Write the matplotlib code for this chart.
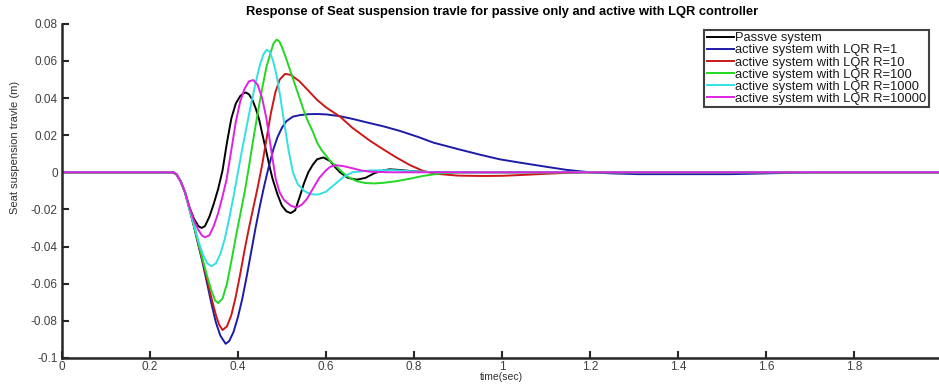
import matplotlib
matplotlib.use("Agg")
import matplotlib.pyplot as plt
import numpy as np

plt.rcParams['font.family'] = ['Liberation Sans', 'DejaVu Sans']

# seat suspension travel (m) sampled against time (s)
t_passive = [0, 0.25, 0.26, 0.27, 0.28, 0.29, 0.30, 0.31, 0.3175, 0.325, 0.335, 0.345, 0.355,
             0.365, 0.375, 0.385, 0.395, 0.405, 0.412, 0.418, 0.425, 0.433, 0.441, 0.448,
             0.456, 0.465, 0.472, 0.479, 0.49, 0.50, 0.51, 0.52, 0.53, 0.541, 0.55, 0.56,
             0.57, 0.58, 0.594, 0.61, 0.62, 0.632, 0.65, 0.67, 0.69, 0.71, 0.73, 0.745,
             0.77, 0.80, 0.85, 2.0]
y_passive = [0, 0, -0.001, -0.005, -0.011, -0.019, -0.025, -0.029, -0.030, -0.029, -0.024,
             -0.017, -0.009, 0.001, 0.016, 0.029, 0.037, 0.041, 0.0425, 0.043, 0.042, 0.039,
             0.034, 0.0286, 0.020, 0.0106, 0.003, -0.0038, -0.012, -0.018, -0.021, -0.022,
             -0.0205, -0.0128, -0.006, 0.0, 0.004, 0.007, 0.008, 0.006, 0.003, 0.0, -0.003,
             -0.004, -0.003, -0.0005, 0.001, 0.0016, 0.0012, 0.0005, 0.0, 0.0]

t_r1 = [0, 0.253, 0.26, 0.27, 0.28, 0.29, 0.30, 0.31, 0.32, 0.33, 0.34, 0.35, 0.36, 0.372,
        0.38, 0.39, 0.40, 0.41, 0.42, 0.43, 0.44, 0.45, 0.46, 0.468, 0.48, 0.49, 0.50, 0.51,
        0.525, 0.541, 0.56, 0.58, 0.60, 0.63, 0.66, 0.6925, 0.73, 0.768, 0.81, 0.844, 0.90,
        0.95, 0.995, 1.041, 1.10, 1.147, 1.20, 1.25, 1.31, 1.40, 1.52, 1.60, 1.70, 2.0]
y_r1 = [0, 0, -0.001, -0.005, -0.011, -0.020, -0.029, -0.039, -0.049, -0.060, -0.071,
        -0.081, -0.088, -0.0924, -0.091, -0.086, -0.078, -0.068, -0.056, -0.043, -0.030,
        -0.018, -0.007, 0.001, 0.012, 0.019, 0.024, 0.0275, 0.030, 0.0308, 0.0313, 0.0314,
        0.0312, 0.0303, 0.0288, 0.0269, 0.0248, 0.0223, 0.019, 0.016, 0.0125, 0.0095,
        0.007, 0.0052, 0.003, 0.0013, 0.0, -0.0006, -0.001, -0.001, -0.001, -0.0006, 0.0, 0.0]

t_r10 = [0, 0.253, 0.26, 0.27, 0.28, 0.29, 0.30, 0.31, 0.32, 0.33, 0.34, 0.35, 0.357,
         0.365, 0.375, 0.385, 0.395, 0.405, 0.415, 0.425, 0.435, 0.445, 0.455, 0.465,
         0.475, 0.485, 0.495, 0.507, 0.52, 0.54, 0.56, 0.58, 0.60, 0.632, 0.66, 0.70,
         0.73, 0.76, 0.79, 0.821, 0.85, 0.90, 0.957, 1.0, 1.05, 1.10, 1.18, 2.0]
y_r10 = [0, 0, -0.001, -0.005, -0.011, -0.020, -0.029, -0.039, -0.048, -0.058, -0.068,
         -0.077, -0.082, -0.085, -0.083, -0.077, -0.067, -0.055, -0.042, -0.030, -0.019,
         -0.008, 0.004, 0.018, 0.032, 0.043, 0.050, 0.053, 0.0525, 0.049, 0.044, 0.039,
         0.035, 0.030, 0.024, 0.017, 0.0124, 0.008, 0.004, 0.0007, -0.0008, -0.0018,
         -0.002, -0.0019, -0.0014, -0.0008, 0.0, 0.0]

t_r100 = [0, 0.253, 0.26, 0.27, 0.28, 0.29, 0.30, 0.31, 0.32, 0.33, 0.34, 0.348, 0.355,
          0.365, 0.375, 0.385, 0.395, 0.405, 0.415, 0.425, 0.435, 0.445, 0.455, 0.465,
          0.475, 0.481, 0.488, 0.494, 0.50, 0.51, 0.52, 0.53, 0.54, 0.55, 0.56, 0.57, 0.58,
          0.59, 0.60, 0.61, 0.62, 0.635, 0.65, 0.67, 0.69, 0.71, 0.73, 0.76, 0.79, 0.82,
          0.86, 0.90, 2.0]
y_r100 = [0, 0, -0.001, -0.005, -0.011, -0.020, -0.029, -0.038, -0.047, -0.056, -0.064,
          -0.069, -0.0705, -0.068, -0.060, -0.048, -0.035, -0.023, -0.011, 0.003, 0.018,
          0.032, 0.045, 0.057, 0.065, 0.0695, 0.0715, 0.0705, 0.0675, 0.061, 0.054, 0.047,
          0.040, 0.033, 0.027, 0.022, 0.016, 0.012, 0.009, 0.006, 0.004, 0.0005, -0.0025,
          -0.0048, -0.0058, -0.006, -0.0057, -0.0048, -0.0035, -0.002, -0.0006, 0.0, 0.0]

t_r1000 = [0, 0.253, 0.26, 0.27, 0.28, 0.29, 0.30, 0.31, 0.32, 0.33, 0.34, 0.35, 0.36,
           0.37, 0.38, 0.39, 0.40, 0.41, 0.42, 0.43, 0.44, 0.45, 0.458, 0.465, 0.472,
           0.48, 0.488, 0.496, 0.505, 0.515, 0.525, 0.535, 0.55, 0.565, 0.5825, 0.60, 0.62,
           0.64, 0.66, 0.70, 0.75, 0.80, 0.85, 2.0]
y_r1000 = [0, 0, -0.001, -0.005, -0.011, -0.020, -0.028, -0.037, -0.044, -0.049, -0.0506,
           -0.049, -0.044, -0.036, -0.025, -0.013, 0.0, 0.013, 0.025, 0.037, 0.048, 0.058,
           0.0635, 0.066, 0.065, 0.060, 0.052, 0.041, 0.027, 0.012, 0.0, -0.006, -0.010,
           -0.0118, -0.012, -0.0105, -0.0065, -0.0025, 0.0, 0.001, 0.0012, 0.0005, 0.0, 0.0]

t_r10000 = [0, 0.253, 0.26, 0.27, 0.28, 0.29, 0.30, 0.31, 0.318, 0.325, 0.335, 0.345,
            0.355, 0.365, 0.374, 0.385, 0.395, 0.405, 0.415, 0.425, 0.435, 0.445, 0.455,
            0.465, 0.4765, 0.486, 0.495, 0.505, 0.52, 0.533, 0.545, 0.556, 0.57, 0.585,
            0.60, 0.61, 0.624, 0.64, 0.66, 0.68, 0.70, 0.75, 2.0]
y_r10000 = [0, 0, -0.001, -0.005, -0.011, -0.019, -0.026, -0.031, -0.034, -0.035, -0.034,
            -0.029, -0.022, -0.013, -0.004, 0.012, 0.027, 0.038, 0.045, 0.049, 0.0497,
            0.047, 0.040, 0.0286, 0.0106, -0.0038, -0.011, -0.015, -0.018, -0.019, -0.0175,
            -0.0146, -0.009, -0.003, 0.001, 0.003, 0.0038, 0.0033, 0.0022, 0.001, 0.0003,
            0.0, 0.0]

labels = ["Passve system",
          "active system with LQR R=1",
          "active system with LQR R=10",
          "active system with LQR R=100",
          "active system with LQR R=1000",
          "active system with LQR R=10000"]
colors = ["#000000", "#1c1ca6", "#cc1818", "#22d822", "#33e0e0", "#e022e0"]

x_ticks = [0, 0.2, 0.4, 0.6, 0.8, 1, 1.2, 1.4, 1.6, 1.8, 2]
x_tick_labels = ["0", "0.2", "0.4", "0.6", "0.8", "1", "1.2", "1.4", "1.6", "1.8", "2"]
y_ticks = [-0.1, -0.08, -0.06, -0.04, -0.02, 0, 0.02, 0.04, 0.06, 0.08]
y_tick_labels = ["-0.1", "-0.08", "-0.06", "-0.04", "-0.02", "0", "0.02", "0.04", "0.06", "0.08"]

series = [(t_passive, y_passive), (t_r1, y_r1), (t_r10, y_r10),
          (t_r100, y_r100), (t_r1000, y_r1000), (t_r10000, y_r10000)]

fig = plt.figure(figsize=(9.39, 3.84), dpi=100)
ax = fig.add_axes([0.066, 0.068, 0.937, 0.870])

for (t, y), label, color in zip(series, labels, colors):
    ax.plot(t, y, color=color, linewidth=1.4, label=label)

ax.set_xlim(0, 2)
ax.set_ylim(-0.1, 0.08)
ax.set_xticks(x_ticks)
ax.set_xticklabels(x_tick_labels)
ax.set_yticks(y_ticks)
ax.set_yticklabels(y_tick_labels)

for side in ['top', 'right']:
    ax.spines[side].set_visible(False)
for side in ['left', 'bottom']:
    ax.spines[side].set_linewidth(1.8)
    ax.spines[side].set_color('#262626')

ax.tick_params(direction='in', length=5, width=1.5, color='#262626',
               labelsize=8.5, labelcolor='#404040')
ax.tick_params(axis='x', pad=2)
ax.tick_params(axis='y', pad=3)

ax.set_title("Response of Seat suspension travle for passive only and active with LQR controller",
             fontsize=9.3, fontweight='bold', pad=6)
ax.set_xlabel("time(sec)", fontsize=7.5, color='#303030')
ax.xaxis.set_label_coords(0.5, -0.042, transform=ax.transAxes)
ax.xaxis.label.set_verticalalignment('top')
ax.set_ylabel("Seat suspension travle (m)", fontsize=8, color='#303030')
ax.yaxis.set_label_coords(-0.048, 0.63)

leg = ax.legend(loc='upper right', bbox_to_anchor=(0.985, 0.982), fontsize=9.3,
                frameon=True, fancybox=False, handlelength=2.1, handletextpad=0.05,
                borderpad=0.2, labelspacing=0.0, borderaxespad=0)
leg.get_frame().set_edgecolor('#111111')
leg.get_frame().set_linewidth(1.5)
for text in leg.get_texts():
    text.set_color('#1a1a1a')

fig.savefig("out.png", dpi=100)
